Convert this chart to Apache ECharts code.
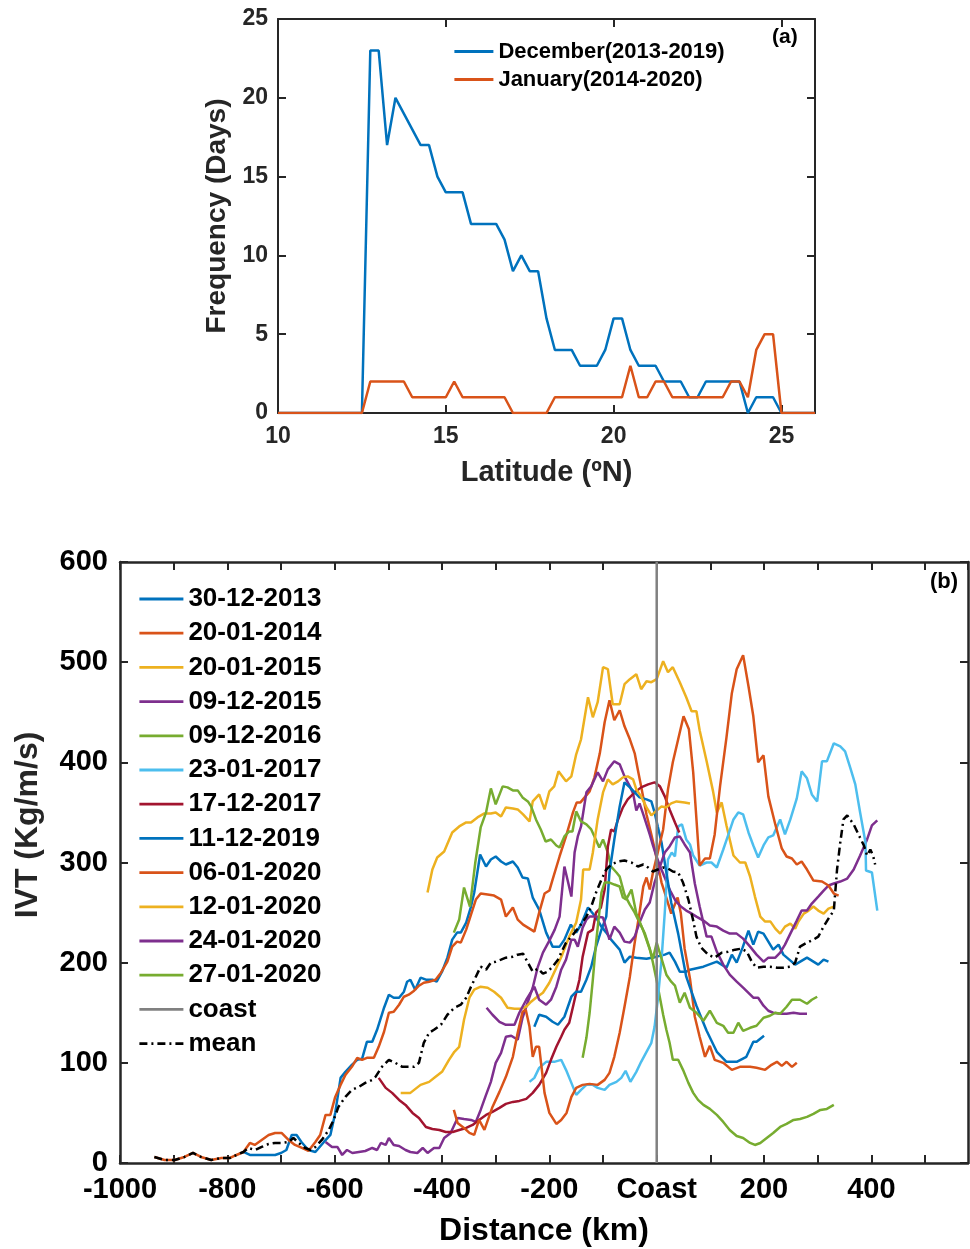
<!DOCTYPE html>
<html><head><meta charset="utf-8">
<script src="https://cdn.jsdelivr.net/npm/echarts@6/dist/echarts.min.js"></script>
<style>html,body{margin:0;padding:0;background:#fff}#c{width:970px;height:1249px}</style>
</head><body><div id="c"></div>
<script>
// ---------- Panel (a) data ----------
const latitude = [10,10.25,10.5,10.75,11,11.25,11.5,11.75,12,12.25,12.5,12.75,13,13.25,13.5,13.75,14,14.25,14.5,14.75,15,15.25,15.5,15.75,16,16.25,16.5,16.75,17,17.25,17.5,17.75,18,18.25,18.5,18.75,19,19.25,19.5,19.75,20,20.25,20.5,20.75,21,21.25,21.5,21.75,22,22.25,22.5,22.75,23,23.25,23.5,23.75,24,24.25,24.5,24.75,25,25.25,25.5,25.75,26];
const december = [0,0,0,0,0,0,0,0,0,0,0,23,23,17,20,19,18,17,17,15,14,14,14,12,12,12,12,11,9,10,9,9,6,4,4,4,3,3,3,4,6,6,4,3,3,3,2,2,2,1,1,2,2,2,2,2,0,1,1,1,0,0,0,0,0];
const january = [0,0,0,0,0,0,0,0,0,0,0,2,2,2,2,2,1,1,1,1,1,2,1,1,1,1,1,1,0,0,0,0,0,1,1,1,1,1,1,1,1,1,3,1,1,2,2,1,1,1,1,1,1,1,2,2,1,4,5,5,0,0,0,0,0];
const panelALegend = ['December(2013-2019)','January(2014-2020)'];

// ---------- Panel (b) data: [distance km, IVT] ----------
const d20131230 = [[-770,11],[-758,8],[-730,8],[-711,8],[-700,10],[-690,13],[-680,28],[-671,28],[-662,21],[-649,13],[-636,11],[-620,21],[-608,28],[-599,50],[-589,85],[-580,91],[-568,98],[-558,103],[-549,104],[-540,121],[-530,121],[-521,133],[-508,155],[-499,168],[-490,165],[-480,165],[-471,171],[-465,181],[-459,183],[-450,173],[-440,185],[-430,183],[-418,183],[-410,181],[-400,191],[-390,205],[-381,223],[-372,230],[-365,230],[-355,240],[-346,256],[-340,270],[-329,308],[-318,296],[-309,303],[-300,306],[-290,301],[-281,298],[-268,301],[-259,295],[-250,285],[-240,284],[-231,265],[-219,253],[-206,230],[-194,216],[-181,216],[-172,223],[-160,238],[-150,230],[-141,238],[-128,255],[-113,245],[-103,236],[-94,230],[-85,223],[-69,213],[-60,200],[-50,206],[-38,205],[-19,204],[0,206],[15,208],[24,210],[34,201],[43,191],[55,191],[62,193],[87,196],[112,201],[130,195],[140,208],[149,200],[160,215],[171,232],[180,218],[189,231],[199,229],[217,213],[227,218],[236,208],[258,198],[280,205],[301,198],[311,203],[320,201]];
const d20140120 = [[-936,6],[-917,3],[-898,3],[-880,6],[-864,10],[-849,6],[-830,3],[-811,5],[-795,5],[-783,8],[-770,11],[-758,20],[-749,18],[-736,23],[-723,28],[-711,30],[-699,30],[-686,23],[-674,18],[-661,15],[-649,12],[-636,21],[-627,28],[-617,48],[-608,48],[-599,66],[-589,78],[-580,88],[-568,96],[-558,105],[-549,103],[-540,105],[-527,105],[-518,116],[-508,131],[-499,150],[-490,151],[-480,158],[-471,166],[-462,168],[-452,172],[-443,177],[-434,180],[-424,181],[-412,183],[-402,190],[-390,201],[-381,216],[-372,221],[-365,220],[-355,233],[-346,248],[-337,263],[-328,269],[-315,268],[-303,267],[-290,263],[-281,246],[-268,255],[-259,243],[-249,238],[-240,235],[-228,231],[-219,250],[-209,269],[-200,272],[-194,283],[-181,306],[-169,326],[-156,350],[-149,360],[-142,360],[-125,371],[-116,385],[-106,409],[-97,440],[-88,462],[-79,442],[-69,452],[-60,436],[-50,423],[-41,409],[-35,392],[-29,376],[-19,348],[-10,328],[-4,314],[9,280],[15,270],[27,249],[39,265],[45,249],[52,214],[62,184],[71,146],[80,126],[90,106],[99,117],[108,103],[124,100],[140,93],[155,96],[174,96],[186,95],[202,93],[214,98],[224,101],[233,97],[242,101],[252,96],[261,100]];
const d20150120 = [[-427,270],[-418,293],[-409,305],[-396,311],[-381,330],[-368,336],[-355,340],[-346,340],[-334,345],[-321,349],[-309,349],[-300,350],[-290,346],[-281,355],[-268,354],[-259,353],[-249,348],[-237,341],[-231,361],[-219,368],[-209,353],[-200,371],[-191,376],[-183,391],[-169,381],[-159,386],[-150,408],[-141,423],[-128,465],[-119,445],[-110,460],[-100,495],[-91,493],[-82,458],[-69,458],[-60,478],[-50,483],[-38,488],[-29,473],[-19,481],[-10,480],[0,483],[12,501],[21,490],[30,495],[43,480],[55,465],[65,451],[74,451],[80,432],[93,401],[105,371],[112,350],[121,360],[130,337],[143,307],[155,300],[165,300],[174,286],[183,266],[193,246],[202,241],[212,241],[221,234],[230,229],[239,236],[249,239],[258,234],[264,241],[274,249],[283,252],[292,256],[301,252],[311,249],[320,254],[330,256]];
const d20151209 = [[-617,21],[-605,16],[-595,16],[-586,8],[-577,13],[-567,10],[-555,11],[-543,12],[-530,15],[-521,13],[-514,20],[-505,18],[-499,25],[-490,18],[-480,17],[-468,13],[-459,11],[-446,10],[-436,15],[-427,10],[-415,15],[-405,15],[-396,25],[-384,30],[-371,45],[-359,44],[-346,43],[-337,41],[-328,53],[-318,68],[-309,81],[-300,100],[-290,110],[-281,126],[-271,127],[-259,123],[-250,145],[-240,161],[-231,175],[-222,195],[-212,210],[-200,222],[-190,233],[-181,246],[-172,296],[-165,280],[-159,266],[-153,310],[-147,326],[-141,336],[-131,370],[-122,376],[-110,390],[-100,381],[-91,393],[-79,401],[-69,398],[-60,386],[-50,376],[-44,369],[-38,352],[-32,359],[-25,348],[-19,338],[-13,328],[-7,317],[-1,307],[5,298],[15,285],[25,272],[35,262],[45,256],[55,252],[62,250],[74,246],[87,242],[99,237],[112,236],[124,232],[136,229],[149,229],[161,224],[174,216],[186,208],[199,201],[208,205],[221,205],[230,210],[239,218],[249,229],[261,242],[270,252],[280,252],[289,259],[301,266],[311,272],[320,277],[330,279],[342,281],[355,284],[367,293],[379,307],[392,323],[401,337],[411,342]];
const d20161209 = [[-378,230],[-368,243],[-359,275],[-348,256],[-338,300],[-328,335],[-318,350],[-309,374],[-300,358],[-287,376],[-278,375],[-268,372],[-259,372],[-250,365],[-240,361],[-234,356],[-225,343],[-216,333],[-207,321],[-197,323],[-187,317],[-181,315],[-172,326],[-163,331],[-157,331],[-150,351],[-141,341],[-131,338],[-122,333],[-116,326],[-107,315],[-100,323],[-91,310],[-85,296],[-75,290],[-69,286],[-60,268],[-50,258],[-41,250],[-32,240],[-22,229],[-13,214],[-7,200],[0,182],[6,165],[12,148],[18,133],[24,120],[30,103],[40,103],[49,93],[59,80],[68,70],[77,63],[87,58],[99,54],[112,48],[124,41],[136,33],[149,27],[161,25],[174,20],[183,18],[193,20],[205,25],[217,30],[230,36],[242,39],[255,43],[267,44],[280,46],[292,49],[305,53],[317,54],[330,58]];
const d20170123 = [[-237,81],[-228,85],[-219,95],[-206,101],[-191,101],[-178,103],[-169,93],[-159,80],[-150,68],[-141,73],[-131,78],[-119,78],[-110,75],[-97,73],[-88,78],[-75,81],[-66,85],[-58,92],[-49,81],[-38,91],[-29,101],[-19,111],[-10,120],[-4,136],[2,163],[9,203],[15,250],[21,303],[28,310],[34,306],[40,336],[47,338],[55,323],[62,318],[68,307],[80,297],[93,300],[102,300],[112,295],[124,313],[133,327],[143,343],[152,350],[161,348],[171,330],[180,317],[189,305],[199,317],[208,325],[217,327],[230,343],[239,328],[249,343],[261,364],[270,391],[280,384],[289,368],[299,361],[308,401],[317,401],[330,419],[342,416],[351,411],[361,394],[370,378],[379,350],[389,320],[390,292],[401,290],[411,252]];
const d20171217 = [[-518,85],[-505,75],[-493,70],[-480,63],[-468,58],[-455,50],[-443,45],[-430,36],[-418,34],[-405,33],[-393,31],[-380,31],[-368,33],[-355,35],[-343,38],[-331,43],[-318,48],[-306,51],[-293,55],[-281,59],[-268,61],[-256,62],[-243,64],[-231,70],[-219,78],[-206,90],[-197,103],[-187,116],[-178,126],[-172,133],[-163,140],[-156,156],[-150,170],[-144,183],[-138,206],[-128,230],[-119,233],[-113,250],[-104,255],[-97,273],[-91,316],[-85,333],[-79,331],[-72,343],[-63,355],[-54,363],[-41,370],[-29,375],[-16,378],[-4,380],[6,376],[15,366],[24,353],[34,340],[42,330]];
const d20191211 = [[-228,136],[-219,148],[-206,146],[-194,141],[-184,138],[-172,146],[-159,166],[-150,171],[-141,171],[-131,183],[-122,196],[-113,216],[-103,233],[-94,246],[-88,290],[-79,323],[-69,356],[-60,380],[-50,375],[-41,370],[-32,365],[-19,363],[-10,361],[-4,350],[2,336],[9,320],[18,290],[27,260],[40,229],[55,186],[74,157],[93,132],[112,111],[130,101],[149,101],[167,106],[180,121],[186,121],[200,127]];
const d20200106 = [[-378,53],[-371,40],[-359,35],[-349,30],[-340,28],[-331,43],[-321,33],[-306,56],[-293,71],[-281,86],[-268,106],[-259,130],[-250,151],[-244,153],[-237,136],[-231,106],[-225,116],[-219,116],[-209,70],[-200,50],[-187,39],[-178,43],[-168,50],[-159,66],[-150,75],[-138,78],[-125,79],[-110,78],[-97,83],[-88,90],[-79,106],[-69,130],[-60,156],[-50,186],[-41,220],[-32,250],[-25,276],[-19,285],[-13,273],[-7,290],[2,310],[12,333],[21,373],[30,400],[40,423],[50,446],[60,433],[68,390],[80,297],[90,304],[99,304],[108,328],[118,376],[130,425],[140,469],[149,493],[161,507],[171,476],[180,446],[189,400],[199,407],[208,366],[221,338],[233,314],[242,306],[252,304],[261,298],[270,301],[280,293],[292,282],[308,281],[320,277],[330,269],[339,267]];
const d20200112 = [[-477,70],[-459,70],[-440,78],[-424,81],[-412,86],[-400,91],[-387,103],[-377,111],[-368,116],[-359,143],[-349,165],[-340,173],[-328,176],[-315,175],[-303,171],[-290,165],[-278,155],[-265,154],[-253,154],[-243,156],[-234,161],[-225,165],[-212,170],[-200,180],[-187,195],[-176,208],[-163,226],[-150,240],[-141,263],[-137,293],[-125,293],[-119,310],[-110,343],[-100,370],[-91,383],[-82,378],[-72,381],[-63,385],[-54,386],[-44,383],[-38,373],[-29,366],[-19,355],[-10,347],[0,352],[9,356],[18,355],[27,359],[37,361],[52,360],[62,359]];
const d20200124 = [[-317,155],[-306,148],[-293,141],[-281,138],[-265,138],[-256,150],[-243,163],[-228,176],[-219,163],[-206,158],[-197,163],[-187,176],[-178,193],[-169,203],[-159,223],[-153,223],[-147,216],[-138,235],[-131,243],[-125,246],[-115,246],[-100,245],[-88,223],[-79,236],[-69,230],[-60,221],[-50,220],[-41,226],[-32,240],[-22,253],[-13,260],[-4,280],[6,296],[15,310],[24,316],[34,325],[43,326],[52,318],[62,310],[71,279],[80,256],[93,226],[102,226],[112,211],[124,198],[136,188],[149,181],[161,175],[180,165],[189,165],[199,157],[208,152],[217,150],[230,149],[242,149],[255,150],[267,149],[280,149]];
const d20200127 = [[-138,105],[-131,125],[-125,150],[-119,183],[-113,220],[-107,250],[-103,270],[-97,280],[-88,280],[-79,278],[-69,276],[-63,265],[-57,263],[-47,273],[-38,249],[-25,232],[-16,218],[-7,204],[0,220],[9,204],[18,188],[27,181],[34,177],[43,160],[52,170],[62,155],[74,150],[87,142],[99,152],[112,140],[124,137],[133,130],[143,130],[152,140],[161,132],[174,135],[186,137],[199,145],[211,147],[221,150],[230,149],[242,156],[252,163],[267,163],[280,159],[289,163],[299,166]];
const meanIVT = [[-936,6],[-917,3],[-898,3],[-880,6],[-864,10],[-849,6],[-830,3],[-811,5],[-795,5],[-783,8],[-770,11],[-761,15],[-748,13],[-736,16],[-723,19],[-711,20],[-699,20],[-686,21],[-677,25],[-667,20],[-655,15],[-645,13],[-636,16],[-624,23],[-611,33],[-602,43],[-593,56],[-580,66],[-568,73],[-555,76],[-543,80],[-530,83],[-524,86],[-512,96],[-499,103],[-487,100],[-474,96],[-465,96],[-452,96],[-443,100],[-434,120],[-424,130],[-415,133],[-402,138],[-390,148],[-377,155],[-365,158],[-355,165],[-346,176],[-337,186],[-328,196],[-318,193],[-309,200],[-300,201],[-290,203],[-281,205],[-268,206],[-259,208],[-249,209],[-240,200],[-231,191],[-221,194],[-212,189],[-203,191],[-194,196],[-184,203],[-178,210],[-169,220],[-156,228],[-144,236],[-131,246],[-122,256],[-113,270],[-103,283],[-94,293],[-85,298],[-72,301],[-60,302],[-47,300],[-35,296],[-25,298],[-16,295],[-7,291],[2,293],[12,295],[21,294],[30,291],[40,290],[49,280],[59,263],[68,242],[74,226],[83,215],[96,208],[108,205],[121,210],[133,211],[146,213],[158,214],[168,211],[177,201],[186,195],[199,196],[211,196],[224,195],[236,195],[249,196],[258,200],[267,216],[280,220],[292,223],[301,226],[311,236],[320,244],[330,252],[336,293],[342,320],[348,343],[355,347],[367,338],[376,328],[386,317],[392,307],[398,313],[403,307],[407,298]];
const coastLine = [[0,0],[0,600]];

const eventNames = ['30-12-2013','20-01-2014','20-01-2015','09-12-2015','09-12-2016','23-01-2017','17-12-2017','11-12-2019','06-01-2020','12-01-2020','24-01-2020','27-01-2020'];
const eventData = [d20131230,d20140120,d20150120,d20151209,d20161209,d20170123,d20171217,d20191211,d20200106,d20200112,d20200124,d20200127];
const eventColors = ['#0072BD','#D95319','#EDB120','#7E2F8E','#77AC30','#4DBEEE','#A2142F','#0072BD','#D95319','#EDB120','#7E2F8E','#77AC30'];

// ---------- chart ----------
const FONT = '"Liberation Sans", Arial, Helvetica, sans-serif';
const AX = '#262626';
const chart = echarts.init(document.getElementById('c'), null, {renderer:'canvas'});

function line(lw){ return {show:true, onZero:false, lineStyle:{color:AX, width:lw}}; }
function tick(){ return {show:true, inside:true, length:8, lineStyle:{color:AX, width:2}}; }

const xAxes = [
  {gridIndex:0, type:'value', position:'bottom', min:10, max:26, interval:5,
   axisLine:line(2), axisTick:tick(), splitLine:{show:false},
   axisLabel:{fontFamily:FONT, fontWeight:'bold', fontSize:23, color:AX, margin:12,
     formatter:v => (Math.round(v) % 5 === 0 && v <= 25) ? String(Math.round(v)) : ''},
   name:'Latitude (ºN)', nameLocation:'middle', nameGap:45,
   nameTextStyle:{fontFamily:FONT, fontWeight:'bold', fontSize:29, color:AX}},
  {gridIndex:0, type:'value', position:'top', min:10, max:26, interval:5,
   axisLine:line(2), axisTick:tick(), splitLine:{show:false}, axisLabel:{show:false}},
  {gridIndex:1, type:'value', position:'bottom', min:-1000, max:580, interval:100,
   axisLine:line(2.5), axisTick:tick(), splitLine:{show:false},
   axisLabel:{fontFamily:FONT, fontWeight:'bold', fontSize:29, color:'#000', margin:12, showMaxLabel:false,
     formatter:v => { const r = Math.round(v); if (r % 200 !== 0 || r > 500) return ''; return r === 0 ? 'Coast' : String(r); }},
   name:'Distance (km)', nameLocation:'middle', nameGap:52,
   nameTextStyle:{fontFamily:FONT, fontWeight:'bold', fontSize:32, color:'#000'}},
  {gridIndex:1, type:'value', position:'top', min:-1000, max:580, interval:100,
   axisLine:line(2.5), axisTick:tick(), splitLine:{show:false}, axisLabel:{show:false}}
];
const yAxes = [
  {gridIndex:0, type:'value', position:'left', min:0, max:25, interval:5,
   axisLine:line(2), axisTick:tick(), splitLine:{show:false},
   axisLabel:{fontFamily:FONT, fontWeight:'bold', fontSize:23, color:AX, margin:10},
   name:'Frequency (Days)', nameLocation:'middle', nameGap:41, nameRotate:90,
   nameTextStyle:{fontFamily:FONT, fontWeight:'bold', fontSize:28, color:AX}},
  {gridIndex:0, type:'value', position:'right', min:0, max:25, interval:5,
   axisLine:line(2), axisTick:tick(), splitLine:{show:false}, axisLabel:{show:false}},
  {gridIndex:1, type:'value', position:'left', min:0, max:600, interval:100,
   axisLine:line(2.5), axisTick:tick(), splitLine:{show:false},
   axisLabel:{fontFamily:FONT, fontWeight:'bold', fontSize:29, color:'#000', margin:12}},
  {gridIndex:1, type:'value', position:'right', min:0, max:600, interval:100,
   axisLine:line(2.5), axisTick:tick(), splitLine:{show:false}, axisLabel:{show:false}}
];

const series = [];
series.push({name:panelALegend[0], type:'line', xAxisIndex:0, yAxisIndex:0, symbol:'none', showSymbol:false,
  data: latitude.map((x,i)=>[x, december[i]]), lineStyle:{color:'#0072BD', width:2.5}, itemStyle:{color:'#0072BD'}});
series.push({name:panelALegend[1], type:'line', xAxisIndex:0, yAxisIndex:0, symbol:'none', showSymbol:false,
  data: latitude.map((x,i)=>[x, january[i]]), lineStyle:{color:'#D95319', width:2.5}, itemStyle:{color:'#D95319'}});
eventNames.forEach((n,i)=>{
  series.push({name:n, type:'line', xAxisIndex:2, yAxisIndex:2, symbol:'none', showSymbol:false,
    data:eventData[i], lineStyle:{color:eventColors[i], width:2.5}, itemStyle:{color:eventColors[i]}});
});
series.push({name:'coast', type:'line', xAxisIndex:2, yAxisIndex:2, symbol:'none', showSymbol:false,
  data:coastLine, lineStyle:{color:'#808080', width:2.5}, itemStyle:{color:'#808080'}});
series.push({name:'mean', type:'line', xAxisIndex:2, yAxisIndex:2, symbol:'none', showSymbol:false,
  data:meanIVT, lineStyle:{color:'#000', width:2.5, type:[8,4,2,4]}, itemStyle:{color:'#000'}});

chart.setOption({
  animation:false,
  backgroundColor:'#fff',
  grid:[
    {left:278, top:19, width:537, height:394},
    {left:120, top:562, width:848, height:601}
  ],
  xAxis:xAxes,
  yAxis:yAxes,
  legend:[
    {data:panelALegend, orient:'vertical', left:453, top:40, padding:0, itemWidth:39, itemHeight:12, itemGap:5,
     itemStyle:{opacity:0}, lineStyle:{width:2.8},
     textStyle:{fontFamily:FONT, fontWeight:'bold', fontSize:22, color:'#000', lineHeight:23}},
    {data:eventNames.concat(['coast','mean']), orient:'vertical', left:138, top:586, padding:0, itemWidth:44, itemHeight:14, itemGap:8.2,
     itemStyle:{opacity:0}, lineStyle:{width:2.8},
     textStyle:{fontFamily:FONT, fontWeight:'bold', fontSize:26, color:'#000', lineHeight:25}}
  ],
  graphic:[
    {type:'text', left:772, top:27, style:{text:'(a)', font:'bold 21px ' + FONT, fill:'#000'}},
    {type:'text', left:930, top:571, style:{text:'(b)', font:'bold 22px ' + FONT, fill:'#000'}},
    {type:'text', x:28, y:825, rotation:Math.PI/2,
     style:{text:'IVT (Kg/m/s)', font:'bold 32px ' + FONT, fill:AX, align:'center', verticalAlign:'middle', textAlign:'center', textVerticalAlign:'middle'}}
  ],
  series:series
});
</script></body></html>
